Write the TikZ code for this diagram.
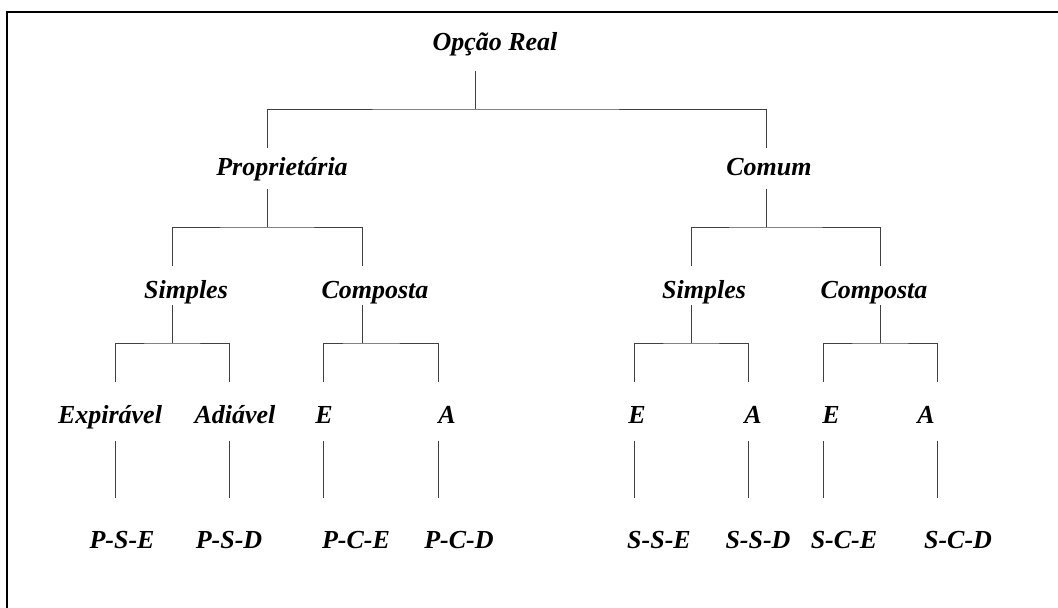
\documentclass[tikz,border=0pt]{standalone}
\usepackage{fontspec}
\setmainfont{Liberation Serif}
\begin{document}
\begin{tikzpicture}[x=1pt,y=-1pt,
  lbl/.style={anchor=base,inner sep=0pt,font=\fontsize{26}{30}\selectfont\bfseries\itshape},
  conn/.style={draw=black!75,line width=1pt},
  frame/.style={draw=black,line width=2.2pt}]
\useasboundingbox (0,0) rectangle (1058,608);
\draw[frame] (7,608) -- (7,12) -- (1058,12);
% nodes
\node[lbl] (root) at (495,50) {Opção Real};
\node[lbl] (prop) at (282,175) {Proprietária};
\node[lbl] (com) at (769,175) {Comum};
\node[lbl] (ps) at (186,298) {Simples};
\node[lbl] (pc) at (375,298) {Composta};
\node[lbl] (cs) at (704,298) {Simples};
\node[lbl] (cc) at (874,298) {Composta};
\node[lbl] (pse) at (110,423) {Expirável};
\node[lbl] (psa) at (235,423) {Adiável};
\node[lbl] (pce) at (324,423) {E};
\node[lbl] (pca) at (447,423) {A};
\node[lbl] (cse) at (637,423) {E};
\node[lbl] (csa) at (753,423) {A};
\node[lbl] (cce) at (831,423) {E};
\node[lbl] (cca) at (926,423) {A};
\node[lbl] (lpse) at (122,548) {P-S-E};
\node[lbl] (lpsd) at (229,548) {P-S-D};
\node[lbl] (lpce) at (356,548) {P-C-E};
\node[lbl] (lpcd) at (459,548) {P-C-D};
\node[lbl] (lsse) at (659,548) {S-S-E};
\node[lbl] (lssd) at (758,548) {S-S-D};
\node[lbl] (lsce) at (844,548) {S-C-E};
\node[lbl] (lscd) at (958,548) {S-C-D};
% connector coordinates
\coordinate (rootB) at (475,71);
\coordinate (j0) at (475,109);
\coordinate (propT) at (267,148);
\coordinate (comT) at (766,148);
\coordinate (propB) at (267,189);
\coordinate (comB) at (766,189);
\coordinate (j1) at (267,227);
\coordinate (j2) at (766,227);
\coordinate (psT) at (172,266);
\coordinate (pcT) at (362,266);
\coordinate (csT) at (691,266);
\coordinate (ccT) at (880,266);
\coordinate (psB) at (172,305);
\coordinate (pcB) at (362,305);
\coordinate (csB) at (691,305);
\coordinate (ccB) at (880,305);
\coordinate (j3) at (172,343);
\coordinate (j4) at (362,343);
\coordinate (j5) at (691,343);
\coordinate (j6) at (880,343);
\foreach \n/\x in {pse/115,psa/229,pce/323,pca/438,cse/634,csa/748,cce/823,cca/937}{
  \coordinate (\n T) at (\x,382);
  \coordinate (\n B) at (\x,441);
  \coordinate (\n L) at (\x,498);
}
% connectors
\draw[conn] (rootB) -- (j0);
\draw[conn] (propT) |- (j0) -| (comT);
\draw[conn] (propB) -- (j1);
\draw[conn] (psT) |- (j1) -| (pcT);
\draw[conn] (comB) -- (j2);
\draw[conn] (csT) |- (j2) -| (ccT);
\draw[conn] (psB) -- (j3);
\draw[conn] (pseT) |- (j3) -| (psaT);
\draw[conn] (pcB) -- (j4);
\draw[conn] (pceT) |- (j4) -| (pcaT);
\draw[conn] (csB) -- (j5);
\draw[conn] (cseT) |- (j5) -| (csaT);
\draw[conn] (ccB) -- (j6);
\draw[conn] (cceT) |- (j6) -| (ccaT);
\foreach \n in {pse,psa,pce,pca,cse,csa,cce,cca}{
  \draw[conn] (\n B) -- (\n L);
}
\end{tikzpicture}
\end{document}
